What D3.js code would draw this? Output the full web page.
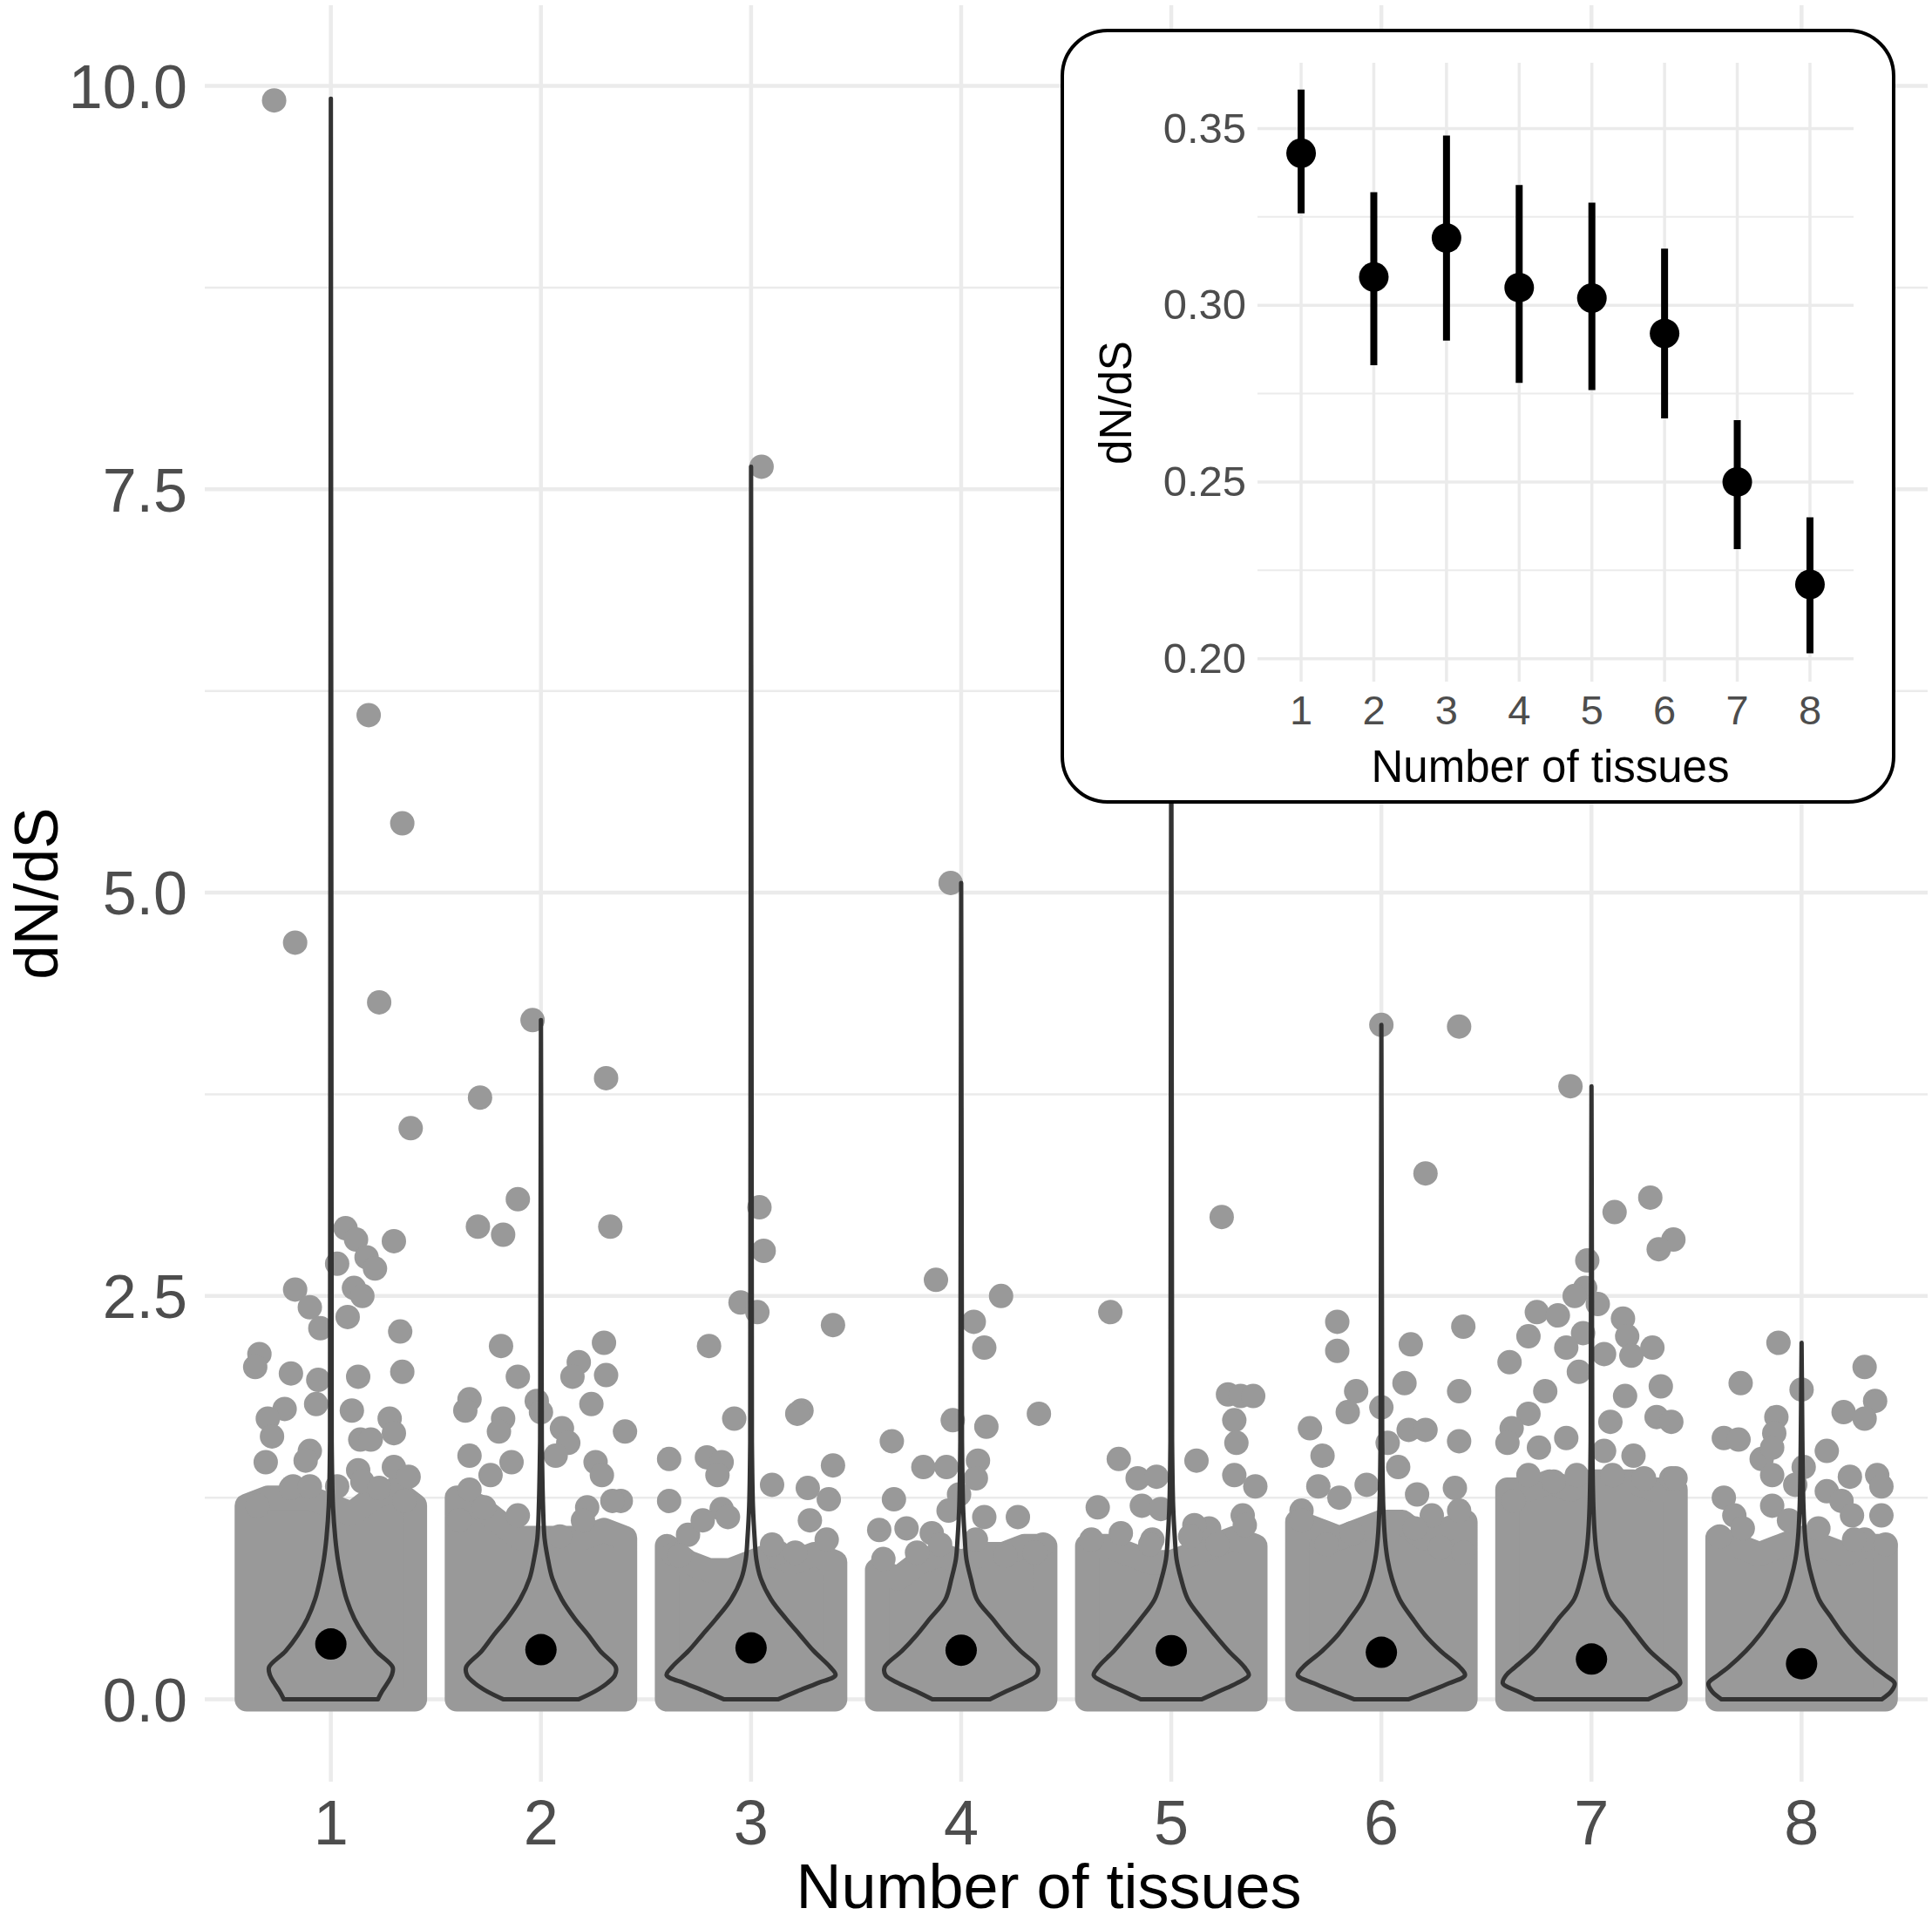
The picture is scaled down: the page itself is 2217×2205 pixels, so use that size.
<!DOCTYPE html>
<html>
<head>
<meta charset="utf-8">
<script src="https://cdn.jsdelivr.net/npm/d3@7"></script>
<style>
  body { margin: 0; background: #fff; }
  svg { display: block; font-family: "Liberation Sans", Arial, sans-serif; }
</style>
</head>
<body>
<script>
// number of tissues on the x axis
var tissues = [1, 2, 3, 4, 5, 6, 7, 8];

// inset: mean dN/dS with confidence interval
var meanDnDs = [0.343, 0.308, 0.319, 0.305, 0.302, 0.292, 0.250, 0.221];
var ciLow    = [0.326, 0.283, 0.290, 0.278, 0.276, 0.268, 0.231, 0.2015];
var ciHigh   = [0.361, 0.332, 0.348, 0.334, 0.329, 0.316, 0.2675, 0.240];

var yTicks = [0, 2.5, 5, 7.5, 10];
var yMinor = [1.25, 3.75, 6.25, 8.75];
var insetTicks = [0.20, 0.25, 0.30, 0.35];
var insetMinor = [0.225, 0.275, 0.325];

// violin outline: dN/dS levels and half widths (tissue-axis units) per group
var violinLevels = [0, 0.05, 0.1, 0.15, 0.2, 0.3, 0.4, 0.5, 0.62, 0.75, 0.87, 1.0, 1.2, 1.6];
var violinMax = [9.92, 4.21, 7.64, 5.06, 6.5, 4.18, 3.80, 2.21];
var violinWidth = [
    [0.224, 0.244, 0.269, 0.290, 0.294, 0.215, 0.157, 0.112, 0.075, 0.050, 0.033, 0.021, 0.010, 0.004],
    [0.178, 0.257, 0.315, 0.352, 0.356, 0.282, 0.224, 0.161, 0.099, 0.054, 0.033, 0.017, 0.010, 0.004],
    [0.128, 0.219, 0.315, 0.402, 0.377, 0.298, 0.232, 0.166, 0.095, 0.046, 0.025, 0.017, 0.009, 0.004],
    [0.137, 0.215, 0.298, 0.360, 0.364, 0.282, 0.211, 0.149, 0.075, 0.046, 0.025, 0.017, 0.009, 0.004],
    [0.145, 0.228, 0.311, 0.369, 0.348, 0.273, 0.207, 0.145, 0.079, 0.046, 0.025, 0.017, 0.009, 0.004],
    [0.128, 0.228, 0.323, 0.398, 0.373, 0.282, 0.207, 0.149, 0.087, 0.050, 0.029, 0.017, 0.009, 0.004],
    [0.269, 0.352, 0.422, 0.406, 0.364, 0.277, 0.215, 0.157, 0.083, 0.050, 0.029, 0.017, 0.009, 0.004],
    [0.381, 0.427, 0.443, 0.398, 0.348, 0.265, 0.199, 0.145, 0.083, 0.050, 0.029, 0.017, 0.009, 0.004]
];

// jittered genes: the solid mass near zero (top edge read at these offsets)
var jitterOffsets = [-0.4, -0.3, -0.2, -0.1, 0, 0.1, 0.2, 0.3, 0.4];
var denseTop = [
    [1.20, 1.25, 1.25, 1.25, 1.20, 1.15, 1.25, 1.30, 1.20],
    [1.25, 1.20, 1.10, 1.00, 1.00, 1.00, 1.00, 1.05, 1.00],
    [0.95, 0.85, 0.80, 0.80, 0.85, 0.90, 0.85, 0.90, 0.85],
    [0.80, 0.75, 0.85, 0.90, 0.85, 0.90, 0.90, 0.95, 0.95],
    [0.95, 0.95, 0.90, 0.85, 0.85, 0.90, 0.95, 1.00, 0.95],
    [1.10, 1.05, 1.00, 1.05, 1.10, 1.10, 1.00, 1.05, 1.10],
    [1.30, 1.30, 1.35, 1.30, 1.35, 1.35, 1.35, 1.30, 1.30],
    [1.00, 0.95, 0.90, 0.95, 1.00, 0.95, 0.90, 0.95, 0.95]
];

// separate jittered genes: [jitter offset, dN/dS]
var genes1 = [[-0.27, 9.91], [-0.17, 4.69], [0.18, 6.10], [0.34, 5.43], [0.23, 4.32], [0.38, 3.54],
    [0.07, 2.92], [0.12, 2.85], [0.17, 2.74], [0.21, 2.67], [0.30, 2.84], [0.03, 2.70], [-0.17, 2.54],
    [0.11, 2.55], [0.15, 2.50], [-0.10, 2.43], [-0.05, 2.30], [0.08, 2.37], [0.33, 2.28], [-0.34, 2.14],
    [-0.36, 2.06], [-0.19, 2.02], [-0.06, 1.98], [0.13, 2.00], [0.34, 2.03], [-0.22, 1.80], [-0.30, 1.74],
    [-0.07, 1.83], [0.10, 1.79], [0.28, 1.74], [-0.28, 1.63], [0.14, 1.61], [0.19, 1.61], [0.30, 1.65],
    [-0.31, 1.47], [-0.10, 1.54], [-0.12, 1.48], [0.13, 1.42], [0.30, 1.44], [0.37, 1.38], [-0.18, 1.32],
    [0.03, 1.32], [-0.35, 1.20], [-0.19, 1.31], [-0.10, 1.32], [0.15, 1.35], [0.23, 1.31], [0.35, 1.23]];
var genes2 = [[-0.04, 4.21], [-0.29, 3.73], [0.31, 3.85], [-0.11, 3.10], [-0.30, 2.93], [-0.18, 2.88],
    [0.33, 2.93], [-0.19, 2.19], [0.30, 2.21], [0.18, 2.09], [-0.11, 2.00], [0.15, 2.00], [0.31, 2.01],
    [-0.34, 1.86], [-0.36, 1.79], [-0.18, 1.74], [-0.02, 1.85], [0.00, 1.78], [0.24, 1.83], [0.40, 1.66],
    [-0.20, 1.66], [0.10, 1.68], [0.13, 1.59], [0.07, 1.51], [-0.34, 1.51], [-0.14, 1.47], [0.26, 1.47],
    [0.29, 1.39], [-0.34, 1.30], [0.22, 1.19], [0.38, 1.23], [-0.24, 1.39],
    [-0.39, 1.11], [-0.27, 1.19], [-0.11, 1.14], [0.09, 1.01], [0.20, 1.11], [0.34, 1.23]];
var genes3 = [[0.05, 7.64], [0.04, 3.05], [0.06, 2.78], [-0.05, 2.46], [0.03, 2.40], [0.39, 2.32],
    [-0.20, 2.19], [-0.08, 1.74], [0.24, 1.79], [0.22, 1.77], [-0.39, 1.49], [-0.21, 1.50], [-0.14, 1.47],
    [-0.16, 1.39], [0.39, 1.45], [0.10, 1.33], [0.27, 1.31], [0.37, 1.24], [-0.39, 1.23], [-0.14, 1.18],
    [-0.30, 1.02], [-0.37, 0.90], [0.13, 0.91], [0.28, 1.11],
    [-0.34, 0.89], [-0.23, 1.11], [-0.11, 1.13], [0.10, 0.96], [0.21, 0.91], [0.36, 0.99]];
var genes4 = [[-0.05, 5.06], [-0.12, 2.60], [0.19, 2.50], [0.06, 2.34], [0.11, 2.18], [-0.33, 1.60],
    [-0.04, 1.73], [0.12, 1.69], [0.37, 1.77], [-0.18, 1.44], [-0.07, 1.44], [0.08, 1.48], [0.07, 1.37],
    [-0.32, 1.24], [-0.01, 1.27], [-0.06, 1.17], [0.27, 1.13], [-0.39, 1.05], [-0.26, 1.06], [-0.14, 1.03],
    [0.11, 1.13], [0.39, 0.96],
    [-0.37, 0.87], [-0.21, 0.91], [-0.10, 0.96], [0.07, 0.99], [0.21, 0.89], [0.35, 0.91]];
var genes5 = [[0.02, 6.50], [0.24, 2.99], [-0.29, 2.40], [-0.25, 1.49], [0.12, 1.48], [0.27, 1.89],
    [0.33, 1.88], [0.39, 1.88], [0.30, 1.73], [0.31, 1.59], [-0.16, 1.37], [-0.07, 1.38], [0.30, 1.39],
    [0.40, 1.32], [-0.35, 1.19], [-0.14, 1.20], [-0.05, 1.18], [0.34, 1.14], [-0.09, 0.99], [0.18, 1.06],
    [0.11, 1.08],
    [-0.38, 0.99], [-0.24, 1.03], [-0.10, 0.96], [0.09, 1.01], [0.22, 0.96], [0.35, 1.08]];
var genes6 = [[0.00, 4.18], [0.37, 4.17], [0.21, 3.26], [-0.21, 2.34], [-0.21, 2.16], [0.14, 2.20],
    [0.39, 2.31], [0.11, 1.96], [0.37, 1.91], [-0.12, 1.91], [-0.16, 1.78], [0.00, 1.81], [-0.34, 1.68],
    [0.03, 1.59], [0.13, 1.67], [0.21, 1.67], [0.37, 1.60], [-0.28, 1.51], [0.08, 1.44], [-0.30, 1.32],
    [-0.07, 1.33], [0.35, 1.31], [-0.20, 1.25], [0.17, 1.27], [0.37, 1.17], [-0.38, 1.17], [0.24, 1.14],
    [-0.38, 1.11], [-0.26, 0.96], [-0.14, 1.03], [0.16, 1.06], [0.28, 0.94], [0.39, 0.91]];
var genes7 = [[-0.10, 3.80], [0.28, 3.11], [0.11, 3.02], [0.39, 2.85], [0.32, 2.79], [-0.02, 2.72],
    [-0.03, 2.55], [-0.08, 2.50], [0.03, 2.45], [-0.26, 2.40], [-0.16, 2.38], [0.15, 2.36], [-0.30, 2.25],
    [-0.04, 2.27], [0.17, 2.25], [-0.12, 2.18], [0.06, 2.14], [0.29, 2.18], [0.19, 2.13], [-0.39, 2.09],
    [-0.06, 2.03], [0.33, 1.94], [-0.22, 1.91], [0.16, 1.88], [-0.30, 1.77], [-0.38, 1.68], [0.09, 1.72],
    [0.31, 1.75], [0.38, 1.72], [-0.12, 1.62], [-0.40, 1.59], [-0.25, 1.56], [0.20, 1.51], [0.06, 1.54],
    [-0.30, 1.39], [0.38, 1.37],
    [-0.37, 1.23], [-0.18, 1.35], [-0.07, 1.39], [0.10, 1.39], [0.25, 1.37], [0.40, 1.37]];
var genes8 = [[-0.11, 2.21], [0.30, 2.06], [-0.29, 1.96], [0.00, 1.92], [0.35, 1.85], [0.20, 1.78],
    [0.30, 1.74], [-0.12, 1.75], [-0.13, 1.65], [-0.37, 1.62], [-0.30, 1.61], [0.12, 1.54], [-0.19, 1.49],
    [-0.14, 1.56], [0.01, 1.44], [0.36, 1.39], [0.23, 1.38], [-0.14, 1.39], [-0.03, 1.33], [0.38, 1.32],
    [0.12, 1.29], [-0.37, 1.25], [0.19, 1.23], [-0.14, 1.20], [0.38, 1.14], [0.24, 1.14], [-0.32, 1.14],
    [0.30, 0.99],
    [-0.39, 1.01], [-0.28, 1.06], [-0.06, 1.11], [0.08, 1.06], [0.25, 0.99], [0.40, 0.96]];
var genes = [genes1, genes2, genes3, genes4, genes5, genes6, genes7, genes8];

(function() {
    var width = 2217,
        height = 2205,
        pointR = 14,
        grey = "#999999",
        tickColor = "#4d4d4d",
        gridColor = "#ebebeb";

    var svg = d3.select("body").append("svg")
                .attr("width", width)
                .attr("height", height);

    var x = d3.scaleLinear().domain([0.4, 8.6]).range([235, 2212]),
        y = d3.scaleLinear().domain([-0.51, 10.5]).range([2044, 6]);

    // grid
    var grid = svg.append("g");
    grid.selectAll(".minor").data(yMinor).enter().append("line")
        .attr("x1", x(0.4)).attr("x2", x(8.6))
        .attr("y1", function(d) { return y(d); }).attr("y2", function(d) { return y(d); })
        .attr("stroke", gridColor).attr("stroke-width", 2.5);
    grid.selectAll(".major").data(yTicks).enter().append("line")
        .attr("x1", x(0.4)).attr("x2", x(8.6))
        .attr("y1", function(d) { return y(d); }).attr("y2", function(d) { return y(d); })
        .attr("stroke", gridColor).attr("stroke-width", 4.5);
    grid.selectAll(".vert").data(tissues).enter().append("line")
        .attr("x1", function(d) { return x(d); }).attr("x2", function(d) { return x(d); })
        .attr("y1", y(10.5)).attr("y2", y(-0.51))
        .attr("stroke", gridColor).attr("stroke-width", 4.5);

    // solid mass of jittered genes
    var dense = d3.area()
        .x(function(d) { return x(d.t + d.off); })
        .y0(y(0))
        .y1(function(d) { return y(d.top); });

    tissues.forEach(function(t, i) {
        var pts = jitterOffsets.map(function(o, j) { return {t: t, off: o, top: denseTop[i][j]}; });
        svg.append("path")
           .attr("d", dense(pts))
           .attr("fill", grey)
           .attr("stroke", grey)
           .attr("stroke-width", pointR * 2)
           .attr("stroke-linejoin", "round");
    });

    // separate jittered genes
    tissues.forEach(function(t, i) {
        svg.append("g").selectAll("circle")
           .data(genes[i]).enter().append("circle")
           .attr("cx", function(d) { return x(t + d[0]); })
           .attr("cy", function(d) { return y(d[1]); })
           .attr("r", pointR)
           .attr("fill", grey);
    });

    // violins: smooth body, straight thin tail up to the maximum
    var violinLine = d3.line()
        .x(function(d) { return x(d[0]); })
        .y(function(d) { return y(d[1]); })
        .curve(d3.curveCatmullRom.alpha(0.5));

    tissues.forEach(function(t, i) {
        var right = violinLevels.map(function(l, j) { return [t + violinWidth[i][j], l]; });
        var left = violinLevels.map(function(l, j) { return [t - violinWidth[i][j], l]; }).reverse();
        var d = violinLine(right) +
                "L" + x(t) + "," + y(violinMax[i]) +
                "L" + violinLine(left).slice(1) + "Z";
        svg.append("path")
           .attr("d", d)
           .attr("fill", "none")
           .attr("stroke", "#333333")
           .attr("stroke-width", 5)
           .attr("stroke-linejoin", "round");
    });

    // means
    svg.append("g").selectAll("circle")
       .data(tissues).enter().append("circle")
       .attr("cx", function(d) { return x(d); })
       .attr("cy", function(d, i) { return y(meanDnDs[i]); })
       .attr("r", 18)
       .attr("fill", "#000");

    // axes text
    svg.append("g").selectAll("text")
       .data(yTicks).enter().append("text")
       .attr("x", 215)
       .attr("y", function(d) { return y(d); })
       .attr("dy", "0.36em")
       .attr("text-anchor", "end")
       .attr("font-size", 70)
       .attr("fill", tickColor)
       .text(function(d) { return d3.format(".1f")(d); });

    svg.append("g").selectAll("text")
       .data(tissues).enter().append("text")
       .attr("x", function(d) { return x(d); })
       .attr("y", 2116)
       .attr("text-anchor", "middle")
       .attr("font-size", 72)
       .attr("fill", tickColor)
       .text(function(d) { return d; });

    svg.append("text")
       .attr("x", (x(0.4) + x(8.6)) / 2 - 20)
       .attr("y", 2189)
       .attr("text-anchor", "middle")
       .attr("font-size", 72)
       .attr("fill", "#000")
       .text("Number of tissues");

    svg.append("text")
       .attr("transform", "translate(66," + (y(-0.51) + y(10.5)) / 2 + ") rotate(-90)")
       .attr("text-anchor", "middle")
       .attr("font-size", 71)
       .attr("fill", "#000")
       .text("dN/dS");

    // ---- inset ----
    var ix = d3.scaleLinear().domain([0.4, 8.6]).range([1443, 2127]),
        iy = d3.scaleLinear().domain([0.1935, 0.3686]).range([782, 72]);

    var inset = svg.append("g");
    inset.append("rect")
         .attr("x", 1219).attr("y", 35)
         .attr("width", 954).attr("height", 885)
         .attr("rx", 52).attr("ry", 52)
         .attr("fill", "#fff")
         .attr("stroke", "#000")
         .attr("stroke-width", 4);

    inset.selectAll(".iminor").data(insetMinor).enter().append("line")
         .attr("x1", ix(0.4)).attr("x2", ix(8.6))
         .attr("y1", function(d) { return iy(d); }).attr("y2", function(d) { return iy(d); })
         .attr("stroke", gridColor).attr("stroke-width", 2);
    inset.selectAll(".imajor").data(insetTicks).enter().append("line")
         .attr("x1", ix(0.4)).attr("x2", ix(8.6))
         .attr("y1", function(d) { return iy(d); }).attr("y2", function(d) { return iy(d); })
         .attr("stroke", gridColor).attr("stroke-width", 3.5);
    inset.selectAll(".ivert").data(tissues).enter().append("line")
         .attr("x1", function(d) { return ix(d); }).attr("x2", function(d) { return ix(d); })
         .attr("y1", iy.range()[1]).attr("y2", iy.range()[0])
         .attr("stroke", gridColor).attr("stroke-width", 3.5);

    inset.selectAll(".err").data(tissues).enter().append("line")
         .attr("x1", function(d) { return ix(d); }).attr("x2", function(d) { return ix(d); })
         .attr("y1", function(d, i) { return iy(ciLow[i]); })
         .attr("y2", function(d, i) { return iy(ciHigh[i]); })
         .attr("stroke", "#000").attr("stroke-width", 8);
    inset.selectAll(".mean").data(tissues).enter().append("circle")
         .attr("cx", function(d) { return ix(d); })
         .attr("cy", function(d, i) { return iy(meanDnDs[i]); })
         .attr("r", 17)
         .attr("fill", "#000");

    inset.selectAll(".iyt").data(insetTicks).enter().append("text")
         .attr("x", 1430)
         .attr("y", function(d) { return iy(d); })
         .attr("dy", "0.33em")
         .attr("text-anchor", "end")
         .attr("font-size", 49)
         .attr("fill", tickColor)
         .text(function(d) { return d3.format(".2f")(d); });
    inset.selectAll(".ixt").data(tissues).enter().append("text")
         .attr("x", function(d) { return ix(d); })
         .attr("y", 831)
         .attr("text-anchor", "middle")
         .attr("font-size", 47)
         .attr("fill", tickColor)
         .text(function(d) { return d; });
    inset.append("text")
         .attr("x", (ix(0.4) + ix(8.6)) / 2 - 6)
         .attr("y", 897)
         .attr("text-anchor", "middle")
         .attr("font-size", 51)
         .attr("fill", "#000")
         .text("Number of tissues");
    inset.append("text")
         .attr("transform", "translate(1298,462) rotate(-90)")
         .attr("text-anchor", "middle")
         .attr("font-size", 51)
         .attr("fill", "#000")
         .text("dN/dS");
})();
</script>
</body>
</html>
